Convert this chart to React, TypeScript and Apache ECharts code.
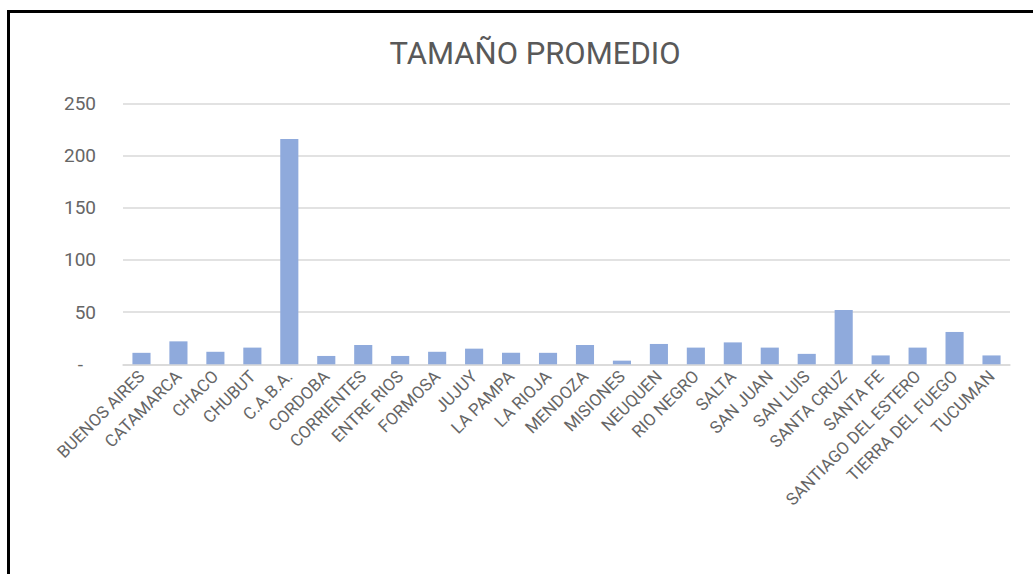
import React, { useEffect, useRef } from "react";
import * as echarts from "echarts";

const categories = [
  "BUENOS AIRES", "CATAMARCA", "CHACO", "CHUBUT", "C.A.B.A.", "CORDOBA",
  "CORRIENTES", "ENTRE RIOS", "FORMOSA", "JUJUY", "LA PAMPA", "LA RIOJA",
  "MENDOZA", "MISIONES", "NEUQUEN", "RIO NEGRO", "SALTA", "SAN JUAN",
  "SAN LUIS", "SANTA CRUZ", "SANTA FE", "SANTIAGO DEL ESTERO",
  "TIERRA DEL FUEGO", "TUCUMAN",
];

const values = [
  11, 22, 12, 16, 216, 8,
  18.5, 8, 12, 15, 11, 11,
  18.5, 3.5, 19.5, 16, 21, 16,
  10, 52, 8.5, 16, 31, 8.5,
];

const yTicks = [0, 50, 100, 150, 200, 250];

const title = "TAMAÑO PROMEDIO";

export default function App() {
  const ref = useRef<HTMLDivElement>(null);

  useEffect(() => {
    if (!ref.current) return;
    const chart = echarts.init(ref.current, null, { renderer: "svg" });
    chart.setOption({
      animation: false,
      backgroundColor: "#ffffff",
      title: {
        text: title,
        left: 530,
        top: 33,
        textAlign: "center",
        textStyle: {
          fontFamily: "Roboto",
          fontSize: 31,
          fontWeight: "normal",
          color: "#595959",
        },
      },
      grid: {
        left: 123,
        right: 23,
        top: 103.5,
        bottom: 209.7,
        containLabel: false,
      },
      xAxis: {
        type: "category",
        data: categories,
        axisLine: { lineStyle: { color: "#d9d9d9", width: 1.5 } },
        axisTick: { show: false },
        axisLabel: {
          interval: 0,
          rotate: 45,
          margin: 9,
          fontFamily: "Roboto",
          fontSize: 17,
          color: "#666666",
        },
      },
      yAxis: {
        type: "value",
        min: yTicks[0],
        max: yTicks[yTicks.length - 1],
        interval: 50,
        axisLine: { show: false },
        axisTick: { show: false },
        splitLine: { lineStyle: { color: "#d9d9d9", width: 1.5 } },
        axisLabel: {
          margin: 27,
          fontFamily: "Roboto",
          fontSize: 19,
          color: "#666666",
          formatter: (v: number) => (v === 0 ? "{d|-}" : String(v)),
          rich: {
            d: {
              fontFamily: "Roboto",
              fontSize: 19,
              color: "#666666",
              padding: [0, 13, 0, 0],
            },
          },
        },
      },
      series: [
        {
          type: "bar",
          data: values,
          barCategoryGap: "51%",
          itemStyle: { color: "#8FAADC" },
        },
      ],
    });
    return () => chart.dispose();
  }, []);

  return (
    <div
      style={{
        position: "fixed",
        left: 0,
        top: 0,
        width: 1033,
        height: 574,
        overflow: "hidden",
        background: "#ffffff",
      }}
    >
      <div ref={ref} style={{ position: "absolute", left: 0, top: 0, width: 1033, height: 574 }} />
      <div
        style={{
          position: "absolute",
          left: 7,
          top: 10,
          width: 1100,
          height: 700,
          borderTop: "3px solid #000",
          borderLeft: "3px solid #000",
          pointerEvents: "none",
        }}
      />
    </div>
  );
}
